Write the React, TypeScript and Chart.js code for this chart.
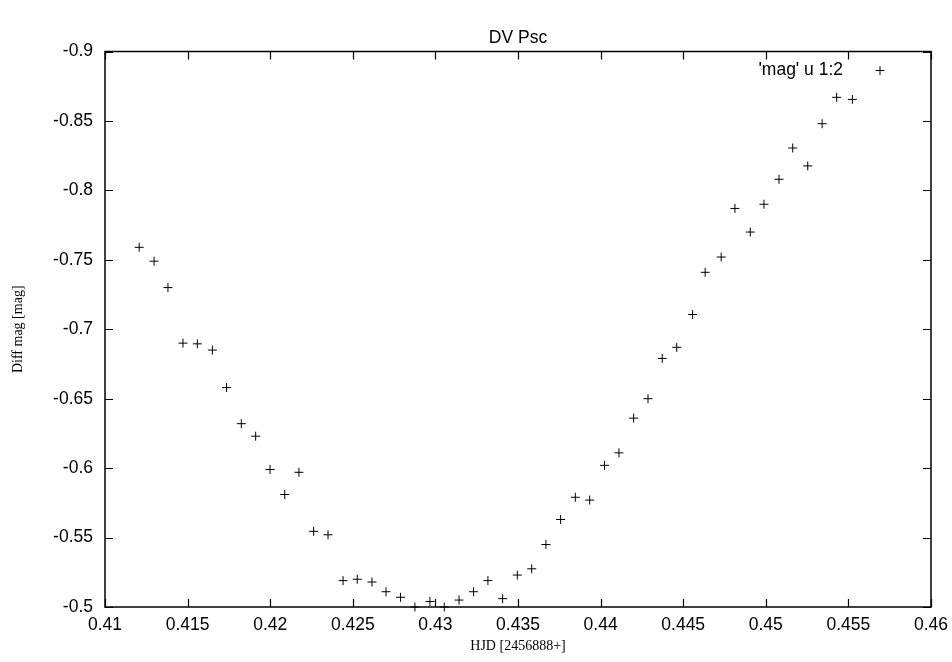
import { useEffect, useRef } from "react";
import { Chart, registerables } from "chart.js";

Chart.register(...registerables);

const hjd = [
  0.41207, 0.41297, 0.41381, 0.41472, 0.41559, 0.4165, 0.41736, 0.41825, 0.41912, 0.41999,
  0.42088, 0.42174, 0.42263, 0.4235, 0.42441, 0.42527, 0.42616, 0.42701, 0.42789, 0.42876,
  0.42967, 0.43054, 0.43143, 0.43231, 0.43318, 0.43407, 0.43496, 0.43583, 0.43669, 0.43758,
  0.43847, 0.43934, 0.44024, 0.44111, 0.442, 0.44287, 0.44373, 0.44461, 0.44557, 0.44633,
  0.4473, 0.44813, 0.44906, 0.44989, 0.4508, 0.45163, 0.45254, 0.45341, 0.45429, 0.45524,
];
const diffMag = [
  -0.759, -0.749, -0.730, -0.690, -0.6895, -0.685, -0.658, -0.632, -0.623, -0.599,
  -0.581, -0.597, -0.5545, -0.552, -0.519, -0.520, -0.518, -0.511, -0.507, -0.500,
  -0.504, -0.500, -0.505, -0.511, -0.519, -0.506, -0.523, -0.5275, -0.545, -0.563,
  -0.579, -0.577, -0.602, -0.611, -0.636, -0.650, -0.679, -0.687, -0.7106, -0.741,
  -0.752, -0.787, -0.770, -0.790, -0.808, -0.8305, -0.8176, -0.848, -0.867, -0.8655,
];
const xTickValues = [0.41, 0.415, 0.42, 0.425, 0.43, 0.435, 0.44, 0.445, 0.45, 0.455, 0.46];
const yTickValues = [-0.9, -0.85, -0.8, -0.75, -0.7, -0.65, -0.6, -0.55, -0.5];

const titleText = "DV Psc";
const seriesLabel = "'mag' u 1:2";
const xTitle = "HJD [2456888+]";
const yTitle = "Diff mag [mag]";

const SANS = "'Liberation Sans', Arial, Helvetica, sans-serif";
const SERIF = "'Liberation Serif', 'Times New Roman', serif";
const FS = 17.5;

const fmt = (v: number) => String(Number(Number(v).toFixed(4)));

const framePlugin = {
  id: "gnuFrame",
  afterDraw(chart: any) {
    const { ctx, chartArea } = chart;
    const { left, right, top, bottom } = chartArea;
    const xs = chart.scales.x;
    const ys = chart.scales.y;
    const tl = 8;
    ctx.save();
    ctx.strokeStyle = "#000";
    ctx.lineWidth = 1.2;
    ctx.beginPath();
    for (const v of xTickValues) {
      const px = Math.round(xs.getPixelForValue(v)) + 0.5;
      ctx.moveTo(px, bottom);
      ctx.lineTo(px, bottom - tl);
      ctx.moveTo(px, top);
      ctx.lineTo(px, top + tl);
    }
    for (const v of yTickValues) {
      const py = Math.round(ys.getPixelForValue(v)) + 0.5;
      ctx.moveTo(left, py);
      ctx.lineTo(left + tl, py);
      ctx.moveTo(right, py);
      ctx.lineTo(right - tl, py);
    }
    ctx.stroke();
    ctx.lineWidth = 1.5;
    ctx.strokeRect(left, top, right - left, bottom - top);

    // key (legend) inside top-right corner
    const ky = top + 19;
    ctx.fillStyle = "#000";
    ctx.font = `${FS}px ${SANS}`;
    ctx.textAlign = "right";
    ctx.textBaseline = "middle";
    ctx.fillText(seriesLabel, right - 88, ky);
    const kx = right - 51;
    ctx.lineWidth = 1;
    ctx.beginPath();
    ctx.moveTo(kx - 4.5, ky);
    ctx.lineTo(kx + 4.5, ky);
    ctx.moveTo(kx, ky - 4.5);
    ctx.lineTo(kx, ky + 4.5);
    ctx.stroke();
    ctx.restore();
  },
};

export default function App() {
  const ref = useRef<HTMLCanvasElement | null>(null);
  useEffect(() => {
    if (!ref.current) return;
    const chart = new Chart(ref.current, {
      type: "scatter",
      data: {
        datasets: [
          {
            label: seriesLabel,
            data: hjd.map((x, i) => ({ x, y: diffMag[i] })),
            pointStyle: "cross",
            pointRadius: 4.5,
            pointHoverRadius: 4.5,
            borderColor: "#000",
            backgroundColor: "#000",
            pointBorderWidth: 1,
            clip: false as any,
          },
        ],
      },
      options: {
        responsive: false,
        animation: false,
        events: [],
        layout: { padding: { left: 0, right: 21, top: 0, bottom: 0 } },
        plugins: {
          legend: { display: false },
          tooltip: { enabled: false },
          title: {
            display: true,
            fullSize: false,
            text: titleText,
            color: "#000",
            font: { family: SANS, size: FS, weight: "normal" },
            padding: { top: 28, bottom: 2.5 },
          },
        },
        scales: {
          x: {
            type: "linear",
            min: 0.41,
            max: 0.46,
            grid: { display: false, drawTicks: false },
            border: { display: false },
            afterBuildTicks: (s: any) => {
              s.ticks = xTickValues.map((v) => ({ value: v }));
            },
            afterFit: (s: any) => {
              s.height = 55;
              s.paddingLeft = 0;
              s.paddingRight = 0;
            },
            ticks: {
              color: "#000",
              font: { family: SANS, size: FS },
              padding: 8,
              maxRotation: 0,
              autoSkip: false,
              callback: (v: any) => fmt(v),
            },
            title: {
              display: true,
              text: xTitle,
              color: "#000",
              font: { family: SERIF, size: 14 },
              padding: { top: 0, bottom: 7 },
            },
          },
          y: {
            type: "linear",
            min: -0.9,
            max: -0.5,
            reverse: true,
            grid: { display: false, drawTicks: false },
            border: { display: false },
            afterBuildTicks: (s: any) => {
              s.ticks = yTickValues.map((v) => ({ value: v }));
            },
            afterFit: (s: any) => {
              s.width = 105;
            },
            ticks: {
              color: "#000",
              font: { family: SANS, size: FS },
              padding: 12,
              autoSkip: false,
              callback: (v: any) => fmt(v),
            },
            title: {
              display: true,
              text: yTitle,
              color: "#000",
              font: { family: SERIF, size: 14 },
              padding: { top: 10, bottom: 0 },
            },
          },
        },
      },
      plugins: [framePlugin],
    });
    return () => chart.destroy();
  }, []);
  return (
    <div style={{ position: "absolute", left: 0, top: 0, width: 952, height: 662, background: "#fff" }}>
      <canvas ref={ref} width={952} height={662} style={{ display: "block" }} />
    </div>
  );
}
